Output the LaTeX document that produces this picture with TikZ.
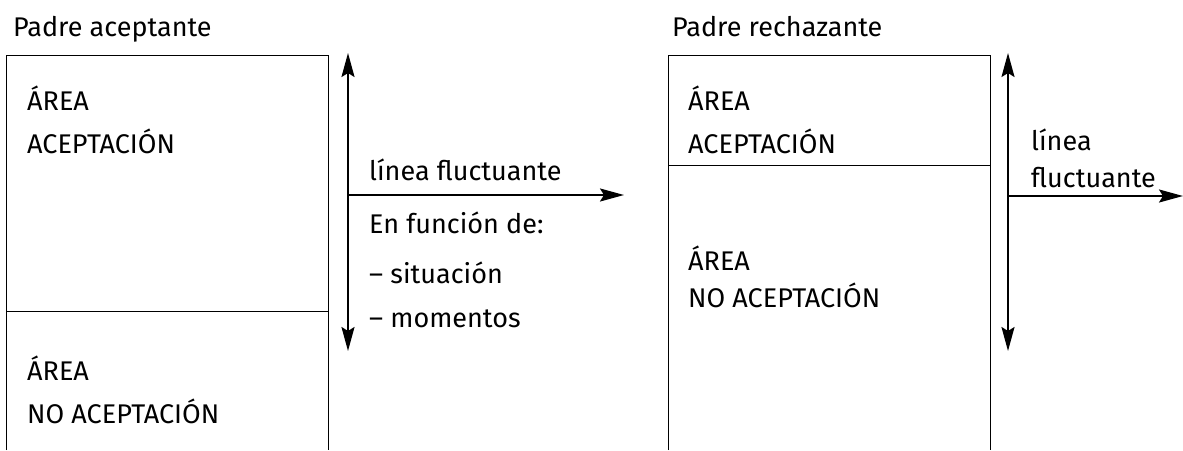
\documentclass[tikz,border=0pt]{standalone}
\usepackage{fontspec}
\setmainfont{Fira Sans}
\usetikzlibrary{arrows.meta}
\begin{document}
\begin{tikzpicture}[x=1pt,y=-1pt,
  lbl/.style={anchor=base west,inner sep=0pt,font=\fontsize{27}{31}\selectfont},
  boxline/.style={line width=1pt},
  fluct/.style={line width=2pt,{Stealth[length=24pt,width=13pt,inset=4pt]}-{Stealth[length=24pt,width=13pt,inset=4pt]}},
  fluctr/.style={line width=2pt,-{Stealth[length=24pt,width=13pt,inset=4pt]}}]
\useasboundingbox (0,0) rectangle (1183,450);
% left panel
\node[lbl] (t1) at (13,36) {Padre aceptante};
\draw[boxline] (6,450) -- (6,55) -- (328,55) -- (328,450);
\draw[boxline] (6,311) -- (328,311);
\node[lbl] (a1) at (27,110) {ÁREA};
\node[lbl] (a2) at (27,153) {ACEPTACIÓN};
\node[lbl] (a3) at (27,380) {ÁREA};
\node[lbl] (a4) at (27,423) {NO ACEPTACIÓN};
\coordinate (v1t) at (348,53);
\coordinate (v1b) at (348,351);
\coordinate (h1s) at (348,195);
\coordinate (h1e) at (624,195);
\draw[fluct] (v1t) -- (v1b);
\draw[fluctr] (h1s) -- (h1e);
\node[lbl] (l1) at (369,180) {línea fluctuante};
\node[lbl] (l2) at (369,233) {En función de:};
\node[lbl] (l3) at (369,283) {– situación};
\node[lbl] (l4) at (369,327) {– momentos};
% right panel
\node[lbl] (t2) at (672,36) {Padre rechazante};
\draw[boxline] (668,450) -- (668,55) -- (990,55) -- (990,450);
\draw[boxline] (668,165) -- (990,165);
\node[lbl] (b1) at (688,110) {ÁREA};
\node[lbl] (b2) at (688,153) {ACEPTACIÓN};
\node[lbl] (b3) at (688,270) {ÁREA};
\node[lbl] (b4) at (688,307) {NO ACEPTACIÓN};
\coordinate (v2t) at (1008,53);
\coordinate (v2b) at (1008,351);
\coordinate (h2s) at (1008,196);
\coordinate (h2e) at (1183,196);
\draw[fluct] (v2t) -- (v2b);
\draw[fluctr] (h2s) -- (h2e);
\node[lbl] (r1) at (1031,150) {línea};
\node[lbl] (r2) at (1031,187) {fluctuante};
\end{tikzpicture}
\end{document}
